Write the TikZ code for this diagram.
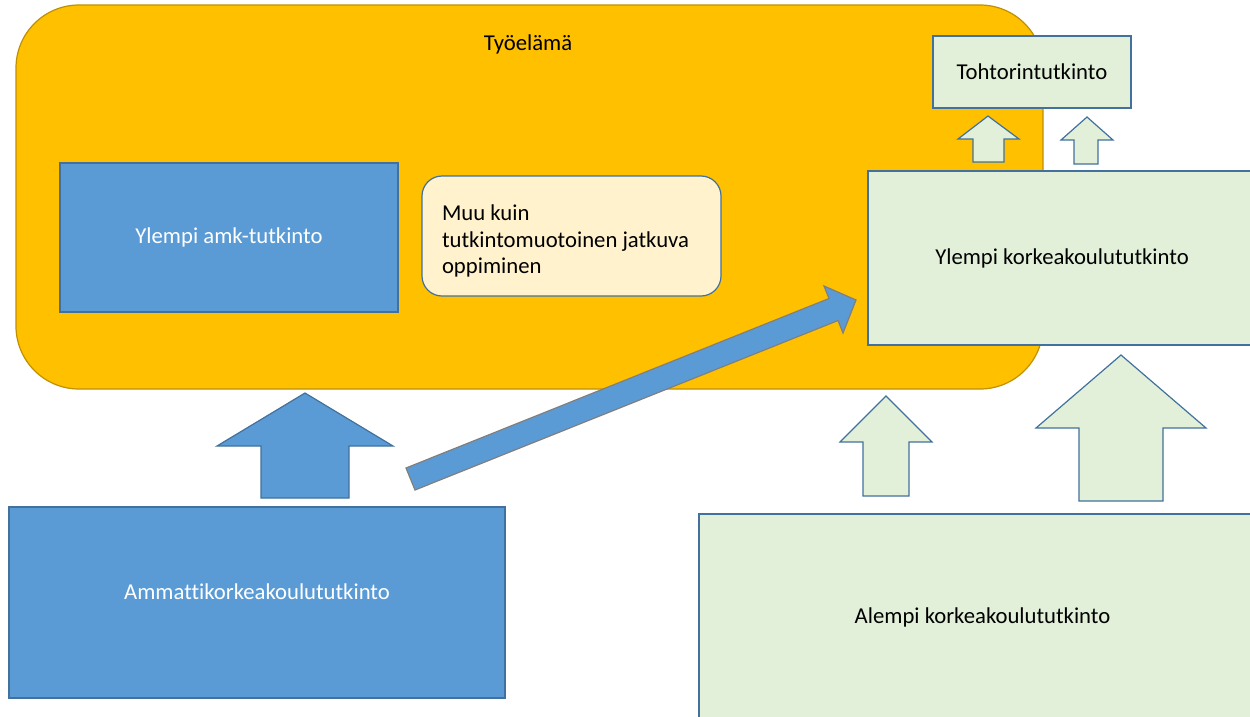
\documentclass[tikz,border=0pt]{standalone}
\usepackage{fontspec}
\setmainfont{Carlito}[Ligatures=NoCommon]
\definecolor{orangefill}{HTML}{FFC000}
\definecolor{orangeline}{HTML}{BF9000}
\definecolor{bluefill}{HTML}{5B9BD5}
\definecolor{blueline}{HTML}{41719C}
\definecolor{greenfill}{HTML}{E2F0D9}
\definecolor{yellowfill}{HTML}{FFF2CC}
\definecolor{grayline}{HTML}{7F7F7F}
\newcommand\blockup[9]{%
  \draw[#1] (#2,#3) -- (#6,#4) -- (#7,#4) -- (#7,#9) -- (#8,#9) -- (#8,#4) -- (#5,#4) -- cycle;}
\begin{document}
\begin{tikzpicture}[x=1pt,y=-1pt,
  every node/.style={inner sep=0pt, outer sep=0pt, font=\fontsize{22.7}{26.7}\selectfont},
  orangebox/.style={draw=orangeline, fill=orangefill, line width=1.2pt, rounded corners=63pt, rectangle},
  bluebox/.style={draw=blueline, fill=bluefill, line width=1.2pt, rectangle, text=white},
  greenbox/.style={draw=blueline, fill=greenfill, line width=1.2pt, rectangle, text=black},
  yellowbox/.style={draw=blueline, fill=yellowfill, line width=1.2pt, rectangle, rounded corners=20pt, text=black},
  greenarrow/.style={draw=blueline, fill=greenfill, line width=1.2pt, line join=miter},
  bluearrow/.style={draw=blueline, fill=bluefill, line width=1.2pt, line join=miter},
  diagarrow/.style={draw=grayline, fill=bluefill, line width=1.2pt, line join=miter}]
\useasboundingbox (0,0) rectangle (1250,716);
\clip (0,0) rectangle (1250,716);
\fill[white] (0,0) rectangle (1250,716);

% Työelämä background
\node[orangebox, minimum width=1027pt, minimum height=384pt] (tyo) at (529.5,197) {};
\node (tyolabel) at (528,44) {Työelämä};

% Ylempi amk-tutkinto
\node[bluebox, minimum width=338pt, minimum height=149pt] (yamk) at (229,237.5) {Ylempi amk-tutkinto};

% Muu kuin ...
\node[yellowbox, minimum width=299pt, minimum height=120pt] (muu) at (571.5,236) {};
\node[anchor=west, align=left] (muutext) at ([xshift=20pt,yshift=-5pt]muu.west) {Muu kuin\\tutkintomuotoinen jatkuva\\oppiminen};

% Tohtorintutkinto
\node[greenbox, minimum width=198pt, minimum height=72pt] (toht) at (1032,72) {Tohtorintutkinto};

% small arrows to Tohtorintutkinto
\blockup{greenarrow}{988}{116}{139}{1019}{958}{973}{1004}{162}
\blockup{greenarrow}{1087}{117}{140}{1113}{1061}{1074}{1098}{164}

% Ylempi korkeakoulututkinto
\node[greenbox, minimum width=388pt, minimum height=174pt] (ykk) at (1062,258) {Ylempi korkeakoulututkinto};

% diagonal arrow
\draw[diagarrow] (406,468) -- (829,298.5) -- (824,286) -- (856,300) -- (843,333) -- (838,320.5) -- (415,490) -- cycle;

% green arrows from Alempi
\blockup{greenarrow}{886}{396}{442}{932}{840}{863}{909}{496}
\blockup{greenarrow}{1121}{355}{428}{1206}{1036}{1079}{1163}{501}

% Alempi korkeakoulututkinto
\node[greenbox, minimum width=567pt, minimum height=206pt] (akk) at (982.5,617) {Alempi korkeakoulututkinto};

% Ammattikorkeakoulututkinto
\node[bluebox, minimum width=496pt, minimum height=191pt,
  label={[text=white, yshift=11pt]center:Ammattikorkeakoulututkinto}] (amk) at (257,602.5) {};

% blue up arrow
\blockup{bluearrow}{305}{393}{446}{393}{217}{261}{349}{498}
\end{tikzpicture}
\end{document}
